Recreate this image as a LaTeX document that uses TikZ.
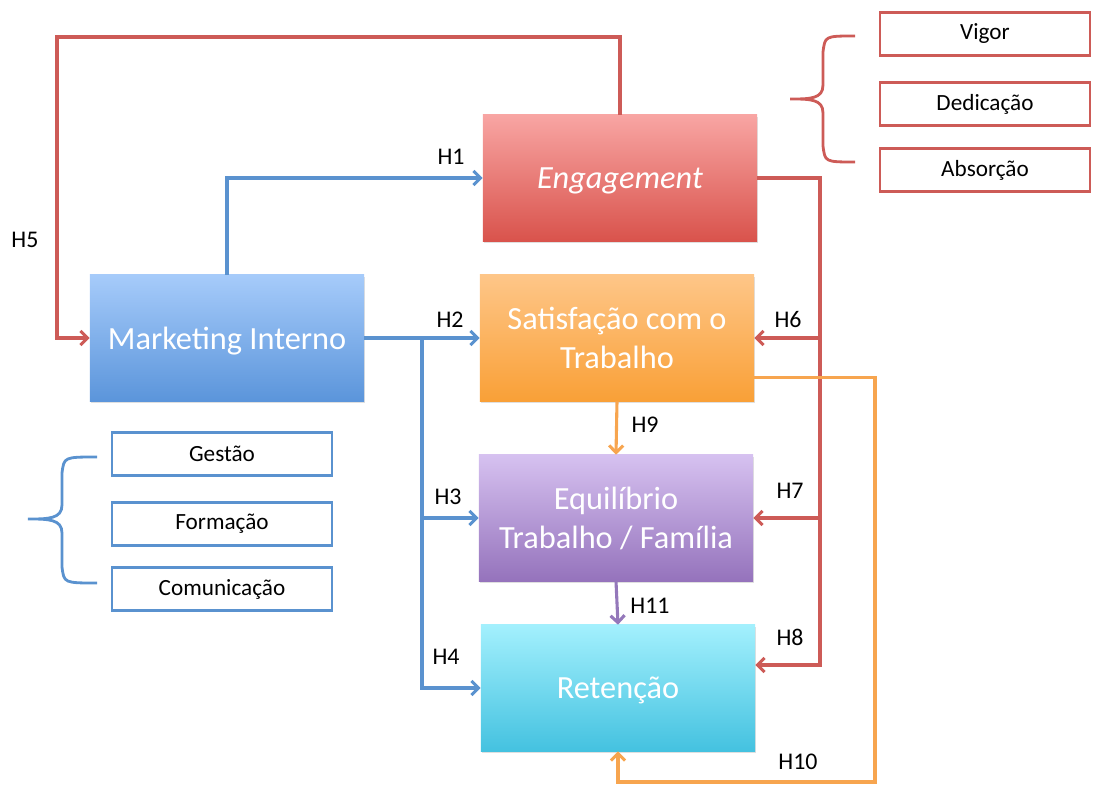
\documentclass[tikz,border=0pt]{standalone}
\usepackage{fontspec}
\setmainfont{Carlito}
\usetikzlibrary{arrows.meta,shadows}

\definecolor{redln}{HTML}{CD5B57}
\definecolor{blueln}{HTML}{5A92CF}
\definecolor{orangeln}{HTML}{F7A54F}
\definecolor{purpleln}{HTML}{9478BA}

\tikzset{
  box/.style={rectangle,minimum width=6.85cm,minimum height=3.15cm,inner sep=2pt,
    align=center,text=white,font=\fontsize{23}{28}\selectfont,text depth=0pt,
    drop shadow={opacity=0.25,shadow xshift=1pt,shadow yshift=-1.5pt}},
  dim/.style={rectangle,draw=#1,line width=2pt,fill=white,minimum width=5.25cm,
    minimum height=1.075cm,font=\fontsize{16.5}{19}\selectfont},
  hyp/.style={font=\fontsize{17}{20}\selectfont},
  link/.style={line width=2.2pt,draw=#1}
}

\begin{document}
\begin{tikzpicture}[x=0.025cm,y=-0.025cm,>={Straight Barb[length=5pt,width=10pt]}]
  \useasboundingbox (0,0) rectangle (1104,787);
  % 主要方框
  \node[box,top color={rgb,255:red,248;green,165;blue,163},bottom color={rgb,255:red,217;green,83;blue,76}]
    (eng) at (620,178) {\itshape Engagement};
  \node[box,top color={rgb,255:red,166;green,203;blue,250},bottom color={rgb,255:red,91;green,149;blue,219}]
    (mkt) at (227,338) {Marketing Interno};
  \node[box,top color={rgb,255:red,254;green,198;blue,136},bottom color={rgb,255:red,249;green,160;blue,55}]
    (sat) at (617,338) {Satisfação com o\\Trabalho};
  \node[box,top color={rgb,255:red,214;green,193;blue,240},bottom color={rgb,255:red,149;green,115;blue,188}]
    (equi) at (616,518) {Equilíbrio\\Trabalho / Família};
  \node[box,top color={rgb,255:red,163;green,240;blue,253},bottom color={rgb,255:red,68;green,194;blue,224}]
    (ret) at (618,688) {Retenção};
  % 维度
  \node[dim=redln] (vig) at (985,34) {Vigor};
  \node[dim=redln] (ded) at (985,104) {Dedicação};
  \node[dim=redln] (abs) at (985,170) {Absorção};
  \node[dim=blueln,minimum width=5.5cm] (ges) at (222,454) {Gestão};
  \node[dim=blueln,minimum width=5.5cm] (for) at (222,524) {Formação};
  \node[dim=blueln,minimum width=5.5cm] (com) at (222,589) {Comunicação};
  % 花括号
  \draw[link=redln,line width=2pt] (855,36) .. controls (825,36) .. (823,52) -- (823,85)
    .. controls (823,99) and (810,99) .. (790,99) .. controls (810,99) and (823,99) .. (823,113)
    -- (823,146) .. controls (825,162) .. (855,162);
  \draw[link=blueln,line width=2pt] (97,457) .. controls (64,457) .. (62,473) -- (62,505)
    .. controls (62,519) and (48,519) .. (28,519) .. controls (48,519) and (62,519) .. (62,533)
    -- (62,567) .. controls (64,583) .. (97,583);
  % 蓝色连线
  \coordinate (bb) at (422,688);
  \draw[link=blueln,->] (mkt.north) |- (eng.west);
  \draw[link=blueln,->] (mkt.east) -- (sat.west);
  \draw[link=blueln,->] (mkt.east) -| (bb) -- (ret.west);
  \draw[link=blueln,->] (bb |- equi.west) -- (equi.west);
  % 红色连线
  \coordinate (h5a) at (57,37);
  \coordinate (rb) at (820,665);
  \draw[link=redln,->] (eng.north) |- (h5a) |- (mkt.west);
  \draw[link=redln,->] (eng.east) -| (rb) -- (ret.east |- rb);
  \draw[link=redln,->] (rb |- sat.east) -- (sat.east);
  \draw[link=redln,->] (rb |- equi.east) -- (equi.east);
  % 橙色与紫色连线
  \coordinate (ob) at (875,782);
  \draw[link=orangeln,->] (sat.south) -- (equi.north);
  \draw[link=orangeln,->] ([yshift=-28pt]sat.east) -| (ob) -| (ret.south);
  \draw[link=purpleln,->] (equi.south) -- (ret.north);
  % 假设标签
  \node[hyp] (l1) at (451,157) {H1};
  \node[hyp] (l2) at (450,320) {H2};
  \node[hyp] (l3) at (448,497) {H3};
  \node[hyp] (l4) at (446,657) {H4};
  \node[hyp] (l5) at (25,240) {H5};
  \node[hyp] (l6) at (788,320) {H6};
  \node[hyp] (l7) at (790,491) {H7};
  \node[hyp] (l8) at (790,637) {H8};
  \node[hyp] (l9) at (645,425) {H9};
  \node[hyp] (l10) at (798,762) {H10};
  \node[hyp] (l11) at (650,606) {H11};
\end{tikzpicture}
\end{document}
